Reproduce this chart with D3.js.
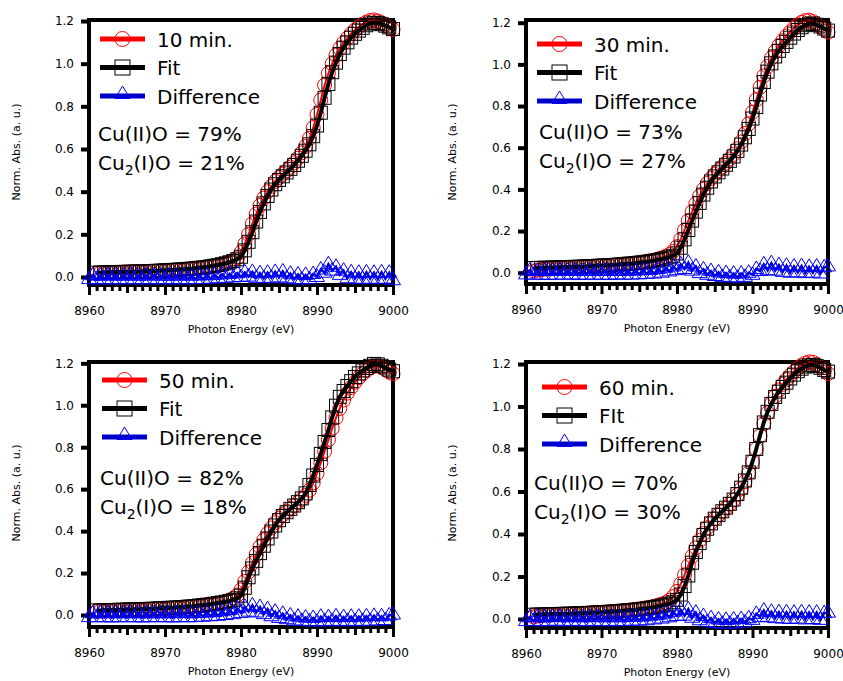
<!DOCTYPE html>
<html>
<head>
<meta charset="utf-8">
<script src="https://cdn.jsdelivr.net/npm/d3@7"></script>
<style>
  body { margin: 0; background: #fff; }
  svg { display: block; }
  text { font-family: "DejaVu Sans", Verdana, sans-serif; fill: #000; }
</style>
</head>
<body>
<script>
// photon energy grid (eV), 0.5 eV steps
const energy = [
  8960, 8960.5, 8961, 8961.5, 8962, 8962.5, 8963, 8963.5, 8964, 8964.5,
  8965, 8965.5, 8966, 8966.5, 8967, 8967.5, 8968, 8968.5, 8969, 8969.5,
  8970, 8970.5, 8971, 8971.5, 8972, 8972.5, 8973, 8973.5, 8974, 8974.5,
  8975, 8975.5, 8976, 8976.5, 8977, 8977.5, 8978, 8978.5, 8979, 8979.5,
  8980, 8980.5, 8981, 8981.5, 8982, 8982.5, 8983, 8983.5, 8984, 8984.5,
  8985, 8985.5, 8986, 8986.5, 8987, 8987.5, 8988, 8988.5, 8989, 8989.5,
  8990, 8990.5, 8991, 8991.5, 8992, 8992.5, 8993, 8993.5, 8994, 8994.5,
  8995, 8995.5, 8996, 8996.5, 8997, 8997.5, 8998, 8998.5, 8999, 8999.5,
  9000
];
// data and fit start at 8961 eV
const fitEnergy = energy.slice(2);

const timeLabels = ['10 min.', '30 min.', '50 min.', '60 min.'];
const fitLabels = ['Fit', 'Fit', 'Fit', 'FIt'];
const diffLabel = 'Difference';
const cuIIO = ['79%', '73%', '82%', '70%'];
const cu2IO = ['21%', '27%', '18%', '30%'];

const yTicks = [0, 0.2, 0.4, 0.6, 0.8, 1.0, 1.2];
const xTicks = [8960, 8970, 8980, 8990, 9000];
const xMidTicks = [8965, 8975, 8985, 8995];
const xMinorTicks = [
  8961, 8962, 8963, 8964, 8966, 8967, 8968, 8969, 8971, 8972, 8973, 8974,
  8976, 8977, 8978, 8979, 8981, 8982, 8983, 8984, 8986, 8987, 8988, 8989,
  8991, 8992, 8993, 8994, 8996, 8997, 8998, 8999
];

// 10 min.
const data10 = [
  0.017, 0.019, 0.020, 0.020, 0.021, 0.022, 0.022, 0.023, 0.023, 0.024,
  0.024, 0.025, 0.025, 0.026, 0.027, 0.027, 0.028, 0.029, 0.030, 0.031,
  0.032, 0.033, 0.034, 0.035, 0.037, 0.038, 0.040, 0.042, 0.044, 0.046,
  0.049, 0.052, 0.055, 0.059, 0.064, 0.070, 0.078, 0.090, 0.115, 0.155,
  0.200, 0.250, 0.295, 0.335, 0.370, 0.400, 0.425, 0.448, 0.466, 0.482,
  0.498, 0.515, 0.535, 0.557, 0.582, 0.612, 0.650, 0.700, 0.762, 0.830,
  0.900, 0.955, 1.000, 1.040, 1.072, 1.098, 1.120, 1.140, 1.158, 1.172,
  1.185, 1.195, 1.202, 1.205, 1.200, 1.192, 1.180, 1.170, 1.160
];
const fit10 = [
  0.020, 0.021, 0.021, 0.022, 0.022, 0.023, 0.023, 0.024, 0.024, 0.025,
  0.025, 0.026, 0.026, 0.027, 0.028, 0.028, 0.029, 0.030, 0.031, 0.032,
  0.033, 0.034, 0.035, 0.036, 0.038, 0.039, 0.041, 0.043, 0.045, 0.047,
  0.050, 0.053, 0.056, 0.060, 0.064, 0.069, 0.075, 0.083, 0.095, 0.125,
  0.165, 0.210, 0.260, 0.305, 0.345, 0.380, 0.410, 0.435, 0.455, 0.472,
  0.490, 0.507, 0.525, 0.545, 0.568, 0.592, 0.622, 0.660, 0.710, 0.770,
  0.840, 0.905, 0.960, 1.005, 1.045, 1.075, 1.100, 1.122, 1.140, 1.155,
  1.168, 1.180, 1.188, 1.192, 1.190, 1.185, 1.178, 1.170, 1.162
];
const diff10 = [
  -0.010, 0.008, -0.012, 0.006, -0.010, 0.008, -0.012, 0.007, -0.010, 0.006,
  -0.011, 0.008, -0.010, 0.006, -0.012, 0.007, -0.010, 0.008, -0.011, 0.006,
  -0.010, 0.007, -0.012, 0.006, -0.010, 0.008, -0.011, 0.006, -0.010, 0.008,
  -0.010, 0.008, -0.008, 0.010, -0.006, 0.012, -0.004, 0.015, -0.002, 0.018,
  0.000, 0.022, 0.002, 0.024, -0.004, 0.018, -0.006, 0.020, -0.004, 0.024,
  -0.002, 0.026, -0.006, 0.016, -0.010, 0.012, -0.012, 0.010, -0.010, 0.014,
  0.000, 0.035, 0.020, 0.060, 0.030, 0.048, 0.010, 0.030, -0.006, 0.022,
  -0.008, 0.020, -0.010, 0.022, -0.008, 0.020, -0.010, 0.022, -0.008, 0.020,
  -0.015
];

// 30 min.
const data30 = [
  0.008, 0.012, 0.015, 0.017, 0.019, 0.020, 0.021, 0.022, 0.023, 0.024,
  0.025, 0.026, 0.027, 0.028, 0.029, 0.030, 0.031, 0.032, 0.033, 0.034,
  0.035, 0.036, 0.038, 0.039, 0.041, 0.042, 0.044, 0.046, 0.048, 0.051,
  0.054, 0.057, 0.061, 0.066, 0.071, 0.078, 0.088, 0.102, 0.125, 0.160,
  0.205, 0.250, 0.292, 0.332, 0.368, 0.400, 0.428, 0.452, 0.472, 0.490,
  0.508, 0.526, 0.546, 0.568, 0.595, 0.628, 0.668, 0.715, 0.770, 0.830,
  0.890, 0.945, 0.990, 1.030, 1.062, 1.090, 1.114, 1.136, 1.156, 1.174,
  1.190, 1.202, 1.210, 1.212, 1.205, 1.195, 1.182, 1.168, 1.155
];
const fit30 = [
  0.022, 0.023, 0.023, 0.024, 0.024, 0.025, 0.025, 0.026, 0.026, 0.027,
  0.027, 0.028, 0.029, 0.029, 0.030, 0.031, 0.032, 0.033, 0.034, 0.035,
  0.036, 0.037, 0.038, 0.040, 0.041, 0.043, 0.044, 0.046, 0.048, 0.050,
  0.052, 0.055, 0.058, 0.061, 0.065, 0.069, 0.074, 0.081, 0.093, 0.120,
  0.160, 0.205, 0.250, 0.293, 0.335, 0.375, 0.408, 0.438, 0.462, 0.482,
  0.500, 0.518, 0.537, 0.558, 0.585, 0.615, 0.650, 0.690, 0.740, 0.795,
  0.855, 0.915, 0.965, 1.005, 1.038, 1.065, 1.088, 1.108, 1.128, 1.148,
  1.165, 1.178, 1.188, 1.195, 1.196, 1.190, 1.182, 1.172, 1.162
];
const diff30 = [
  -0.008, 0.010, -0.010, 0.008, -0.009, 0.010, -0.011, 0.008, -0.009, 0.010,
  -0.010, 0.009, -0.008, 0.010, -0.011, 0.008, -0.009, 0.010, -0.010, 0.008,
  -0.009, 0.010, -0.011, 0.008, -0.008, 0.010, -0.010, 0.009, -0.009, 0.011,
  -0.008, 0.012, -0.006, 0.014, -0.004, 0.018, 0.000, 0.024, 0.006, 0.030,
  0.012, 0.040, 0.018, 0.048, 0.010, 0.030, -0.002, 0.016, -0.010, 0.008,
  -0.016, 0.002, -0.020, -0.002, -0.022, -0.004, -0.024, -0.004, -0.020, 0.000,
  -0.010, 0.018, 0.008, 0.040, 0.012, 0.046, 0.010, 0.036, 0.004, 0.034,
  0.000, 0.030, 0.002, 0.032, -0.002, 0.028, 0.000, 0.030, -0.004, 0.026,
  0.030
];

// 50 min.
const data50 = [
  0.018, 0.019, 0.020, 0.021, 0.021, 0.022, 0.022, 0.023, 0.024, 0.024,
  0.025, 0.025, 0.026, 0.027, 0.027, 0.028, 0.029, 0.030, 0.030, 0.031,
  0.032, 0.033, 0.034, 0.036, 0.037, 0.039, 0.041, 0.043, 0.045, 0.047,
  0.050, 0.053, 0.056, 0.060, 0.065, 0.071, 0.080, 0.095, 0.120, 0.160,
  0.205, 0.248, 0.288, 0.325, 0.358, 0.388, 0.415, 0.440, 0.460, 0.478,
  0.494, 0.508, 0.522, 0.537, 0.552, 0.570, 0.595, 0.630, 0.675, 0.725,
  0.780, 0.835, 0.890, 0.940, 0.985, 1.025, 1.058, 1.085, 1.110, 1.132,
  1.150, 1.166, 1.178, 1.186, 1.188, 1.182, 1.170, 1.158, 1.150
];
const fit50 = [
  0.022, 0.022, 0.023, 0.023, 0.024, 0.024, 0.025, 0.025, 0.026, 0.026,
  0.027, 0.027, 0.028, 0.029, 0.029, 0.030, 0.031, 0.032, 0.033, 0.034,
  0.035, 0.036, 0.037, 0.038, 0.040, 0.041, 0.043, 0.045, 0.047, 0.049,
  0.051, 0.054, 0.057, 0.060, 0.063, 0.067, 0.072, 0.079, 0.092, 0.130,
  0.180, 0.222, 0.258, 0.295, 0.330, 0.365, 0.398, 0.427, 0.452, 0.472,
  0.490, 0.506, 0.522, 0.538, 0.556, 0.580, 0.620, 0.665, 0.715, 0.768,
  0.825, 0.882, 0.942, 0.998, 1.040, 1.068, 1.092, 1.115, 1.135, 1.152,
  1.166, 1.178, 1.188, 1.197, 1.195, 1.188, 1.180, 1.170, 1.162
];
const diff50 = [
  -0.010, 0.008, -0.011, 0.009, -0.010, 0.008, -0.012, 0.009, -0.010, 0.008,
  -0.011, 0.009, -0.010, 0.008, -0.012, 0.009, -0.010, 0.008, -0.011, 0.009,
  -0.010, 0.008, -0.012, 0.009, -0.010, 0.010, -0.011, 0.008, -0.010, 0.010,
  -0.008, 0.012, -0.006, 0.014, -0.004, 0.018, 0.000, 0.024, 0.004, 0.032,
  0.010, 0.040, 0.016, 0.046, 0.012, 0.038, 0.004, 0.028, -0.006, 0.016,
  -0.014, 0.006, -0.020, -0.002, -0.026, -0.008, -0.028, -0.012, -0.030, -0.014,
  -0.032, -0.008, -0.030, -0.010, -0.028, -0.006, -0.030, -0.010, -0.028, -0.008,
  -0.030, -0.008, -0.028, -0.006, -0.028, -0.004, -0.026, -0.006, -0.024, -0.002,
  0.002
];

// 60 min.
const data60 = [
  0.010, 0.014, 0.016, 0.018, 0.019, 0.020, 0.021, 0.022, 0.023, 0.023,
  0.024, 0.025, 0.026, 0.027, 0.027, 0.028, 0.029, 0.030, 0.031, 0.032,
  0.033, 0.035, 0.036, 0.038, 0.039, 0.041, 0.043, 0.045, 0.047, 0.050,
  0.053, 0.056, 0.060, 0.065, 0.070, 0.077, 0.088, 0.105, 0.130, 0.165,
  0.208, 0.252, 0.295, 0.335, 0.370, 0.402, 0.430, 0.453, 0.472, 0.490,
  0.506, 0.522, 0.540, 0.560, 0.584, 0.612, 0.646, 0.688, 0.740, 0.800,
  0.862, 0.920, 0.970, 1.012, 1.048, 1.078, 1.104, 1.126, 1.146, 1.164,
  1.180, 1.194, 1.204, 1.210, 1.208, 1.198, 1.185, 1.170, 1.155
];
const fit60 = [
  0.020, 0.021, 0.021, 0.022, 0.022, 0.023, 0.023, 0.024, 0.024, 0.025,
  0.025, 0.026, 0.027, 0.027, 0.028, 0.029, 0.030, 0.031, 0.032, 0.033,
  0.034, 0.035, 0.036, 0.038, 0.039, 0.041, 0.042, 0.044, 0.046, 0.048,
  0.050, 0.053, 0.056, 0.059, 0.063, 0.067, 0.072, 0.079, 0.090, 0.115,
  0.155, 0.205, 0.265, 0.315, 0.358, 0.395, 0.425, 0.450, 0.472, 0.490,
  0.507, 0.524, 0.542, 0.562, 0.588, 0.618, 0.652, 0.690, 0.740, 0.800,
  0.865, 0.925, 0.975, 1.012, 1.045, 1.070, 1.092, 1.112, 1.132, 1.150,
  1.166, 1.178, 1.188, 1.194, 1.196, 1.190, 1.182, 1.172, 1.164
];
const diff60 = [
  -0.010, 0.008, -0.009, 0.010, -0.011, 0.008, -0.010, 0.009, -0.008, 0.010,
  -0.011, 0.008, -0.009, 0.010, -0.010, 0.008, -0.011, 0.009, -0.009, 0.010,
  -0.010, 0.008, -0.011, 0.010, -0.009, 0.008, -0.010, 0.010, -0.008, 0.012,
  -0.008, 0.012, -0.006, 0.016, -0.002, 0.020, 0.002, 0.026, 0.008, 0.034,
  0.014, 0.042, 0.016, 0.046, 0.006, 0.030, -0.006, 0.014, -0.014, 0.004,
  -0.020, -0.002, -0.022, -0.004, -0.022, -0.002, -0.020, 0.000, -0.016, 0.004,
  -0.004, 0.024, 0.010, 0.040, 0.008, 0.034, 0.004, 0.032, 0.002, 0.032,
  0.000, 0.030, 0.002, 0.032, -0.002, 0.030, 0.000, 0.030, -0.004, 0.028,
  0.030
];

const series = [
  { data: data10, fit: fit10, diff: diff10 },
  { data: data30, fit: fit30, diff: diff30 },
  { data: data50, fit: fit50, diff: diff50 },
  { data: data60, fit: fit60, diff: diff60 }
];

// pixel frame of each panel
const layout = [
  { left: 89, right: 393, top: 20, bottom: 285, y0: 277, y12: 21, legX: 100, legY: 39, annX: 98, annY: 141, labY: 152 },
  { left: 526, right: 828, top: 20, bottom: 284, y0: 272.7, y12: 22.7, legX: 537, legY: 44, annX: 539, annY: 139, labY: 152 },
  { left: 89, right: 393, top: 362, bottom: 627, y0: 615, y12: 363.3, legX: 102, legY: 380, annX: 100, annY: 485, labY: 493 },
  { left: 526, right: 828, top: 362, bottom: 628, y0: 619, y12: 364, legX: 542, legY: 387, annX: 534, annY: 490, labY: 493 }
];

const RED = '#ff0000', BLACK = '#000', BLUE = '#0000cc', BLUE_MK = '#0000ff';
const triangle = 'M0,-8L7.5,4.5L-7.5,4.5Z';

const svg = d3.select('body').append('svg')
  .attr('width', 843)
  .attr('height', 681);

layout.forEach((p, i) => {
  const s = series[i];
  const x = d3.scaleLinear().domain([8960, 9000]).range([p.left, p.right]);
  const y = d3.scaleLinear().domain([0, 1.2]).range([p.y0, p.y12]);
  const line = d3.line().x(d => x(d[0])).y(d => y(d[1]));

  const dataPts = s.data.map((v, k) => [fitEnergy[k], v]);
  const fitPts = s.fit.map((v, k) => [fitEnergy[k], v]);
  const diffPts = s.diff.map((v, k) => [energy[k], v]);

  const g = svg.append('g');

  // axis labels
  g.append('text')
    .attr('transform', `translate(${i % 2 ? 452 : 16},${p.labY}) rotate(-90)`)
    .attr('text-anchor', 'middle')
    .attr('dy', '0.35em')
    .style('font-size', '11px')
    .text('Norm. Abs. (a. u.)');
  g.append('text')
    .attr('x', (p.left + p.right) / 2)
    .attr('y', p.bottom + 48)
    .attr('text-anchor', 'middle')
    .style('font-size', '11px')
    .text('Photon Energy (eV)');

  // y axis
  const ya = g.append('g')
    .attr('transform', `translate(${p.left},0)`)
    .call(d3.axisLeft(y).tickValues(yTicks).tickFormat(d3.format('.1f')).tickSize(8).tickPadding(7));
  ya.select('.domain').remove();
  ya.selectAll('line').attr('stroke', BLACK).attr('stroke-width', 4);
  ya.selectAll('text').style('font-size', '12px').attr('font-family', null);

  // x axis: minor, mid and major ticks
  const xa = g.append('g').attr('transform', `translate(0,${p.bottom})`);
  xa.append('g')
    .call(d3.axisBottom(x).tickValues(xMinorTicks).tickSize(6).tickFormat(''));
  xa.append('g')
    .call(d3.axisBottom(x).tickValues(xMidTicks).tickSize(8).tickFormat(''));
  xa.append('g')
    .call(d3.axisBottom(x).tickValues(xTicks).tickSize(10).tickPadding(11).tickFormat(d3.format('d')));
  xa.selectAll('.domain').remove();
  xa.selectAll('line').attr('stroke', BLACK).attr('stroke-width', 3);
  xa.selectAll('text').style('font-size', '12px').attr('font-family', null);

  // frame
  const frame = g.append('g').attr('stroke', BLACK).attr('stroke-width', 4).attr('fill', 'none');
  frame.append('line').attr('x1', p.left).attr('x2', p.left).attr('y1', p.top - 2).attr('y2', p.bottom + 2);
  frame.append('line').attr('x1', p.right).attr('x2', p.right).attr('y1', p.top - 2).attr('y2', p.bottom + 2);
  frame.append('line').attr('x1', p.left).attr('x2', p.right).attr('y1', p.top).attr('y2', p.top);
  frame.append('line').attr('x1', p.left - 2).attr('x2', p.right + 2).attr('y1', p.bottom).attr('y2', p.bottom);

  // measured spectrum
  g.append('path').datum(dataPts).attr('d', line)
    .attr('fill', 'none').attr('stroke', RED).attr('stroke-width', 2);
  g.append('g').selectAll('circle').data(dataPts).join('circle')
    .attr('cx', d => x(d[0])).attr('cy', d => y(d[1])).attr('r', 7)
    .attr('fill', 'none').attr('stroke', RED).attr('stroke-width', 1);

  // fit
  g.append('g').selectAll('rect').data(fitPts).join('rect')
    .attr('x', d => x(d[0]) - 6.5).attr('y', d => y(d[1]) - 6.5)
    .attr('width', 13).attr('height', 13)
    .attr('fill', 'none').attr('stroke', BLACK).attr('stroke-width', 1);
  g.append('path').datum(fitPts).attr('d', line)
    .attr('fill', 'none').attr('stroke', BLACK).attr('stroke-width', 4);

  // difference
  g.append('path').datum(diffPts).attr('d', line)
    .attr('fill', 'none').attr('stroke', BLUE).attr('stroke-width', 2.5);
  g.append('g').selectAll('path').data(diffPts).join('path')
    .attr('transform', d => `translate(${x(d[0])},${y(d[1])})`)
    .attr('d', triangle)
    .attr('fill', 'none').attr('stroke', BLUE_MK).attr('stroke-width', 1);

  // legend
  const legend = [
    { label: timeLabels[i], color: RED, mark: 'circle' },
    { label: fitLabels[i], color: BLACK, mark: 'square' },
    { label: diffLabel, color: BLUE, mark: 'triangle' }
  ];
  legend.forEach((l, k) => {
    const ly = p.legY + k * 28.5;
    const cx = p.legX + 22.5;
    g.append('line')
      .attr('x1', p.legX).attr('x2', p.legX + 45).attr('y1', ly).attr('y2', ly)
      .attr('stroke', l.color).attr('stroke-width', 5);
    if (l.mark === 'circle') {
      g.append('circle').attr('cx', cx).attr('cy', ly).attr('r', 7.5)
        .attr('fill', 'none').attr('stroke', RED).attr('stroke-width', 1);
    } else if (l.mark === 'square') {
      g.append('rect').attr('x', cx - 7.5).attr('y', ly - 7.5).attr('width', 15).attr('height', 15)
        .attr('fill', 'none').attr('stroke', BLACK).attr('stroke-width', 1);
    } else {
      g.append('path').attr('d', triangle).attr('transform', `translate(${cx},${ly - 2})`)
        .attr('fill', 'none').attr('stroke', BLUE_MK).attr('stroke-width', 1);
    }
    g.append('text')
      .attr('x', p.legX + 57).attr('y', ly + 7.5)
      .style('font-size', '20px')
      .text(l.label);
  });

  // composition
  g.append('text')
    .attr('x', p.annX).attr('y', p.annY)
    .style('font-size', '20px')
    .text(`Cu(II)O = ${cuIIO[i]}`);
  const t2 = g.append('text')
    .attr('x', p.annX).attr('y', p.annY + 28.5)
    .style('font-size', '20px');
  t2.append('tspan').text('Cu');
  t2.append('tspan').attr('dy', 5).style('font-size', '14px').text('2');
  t2.append('tspan').attr('dy', -5).text(`(I)O = ${cu2IO[i]}`);
});
</script>
</body>
</html>
